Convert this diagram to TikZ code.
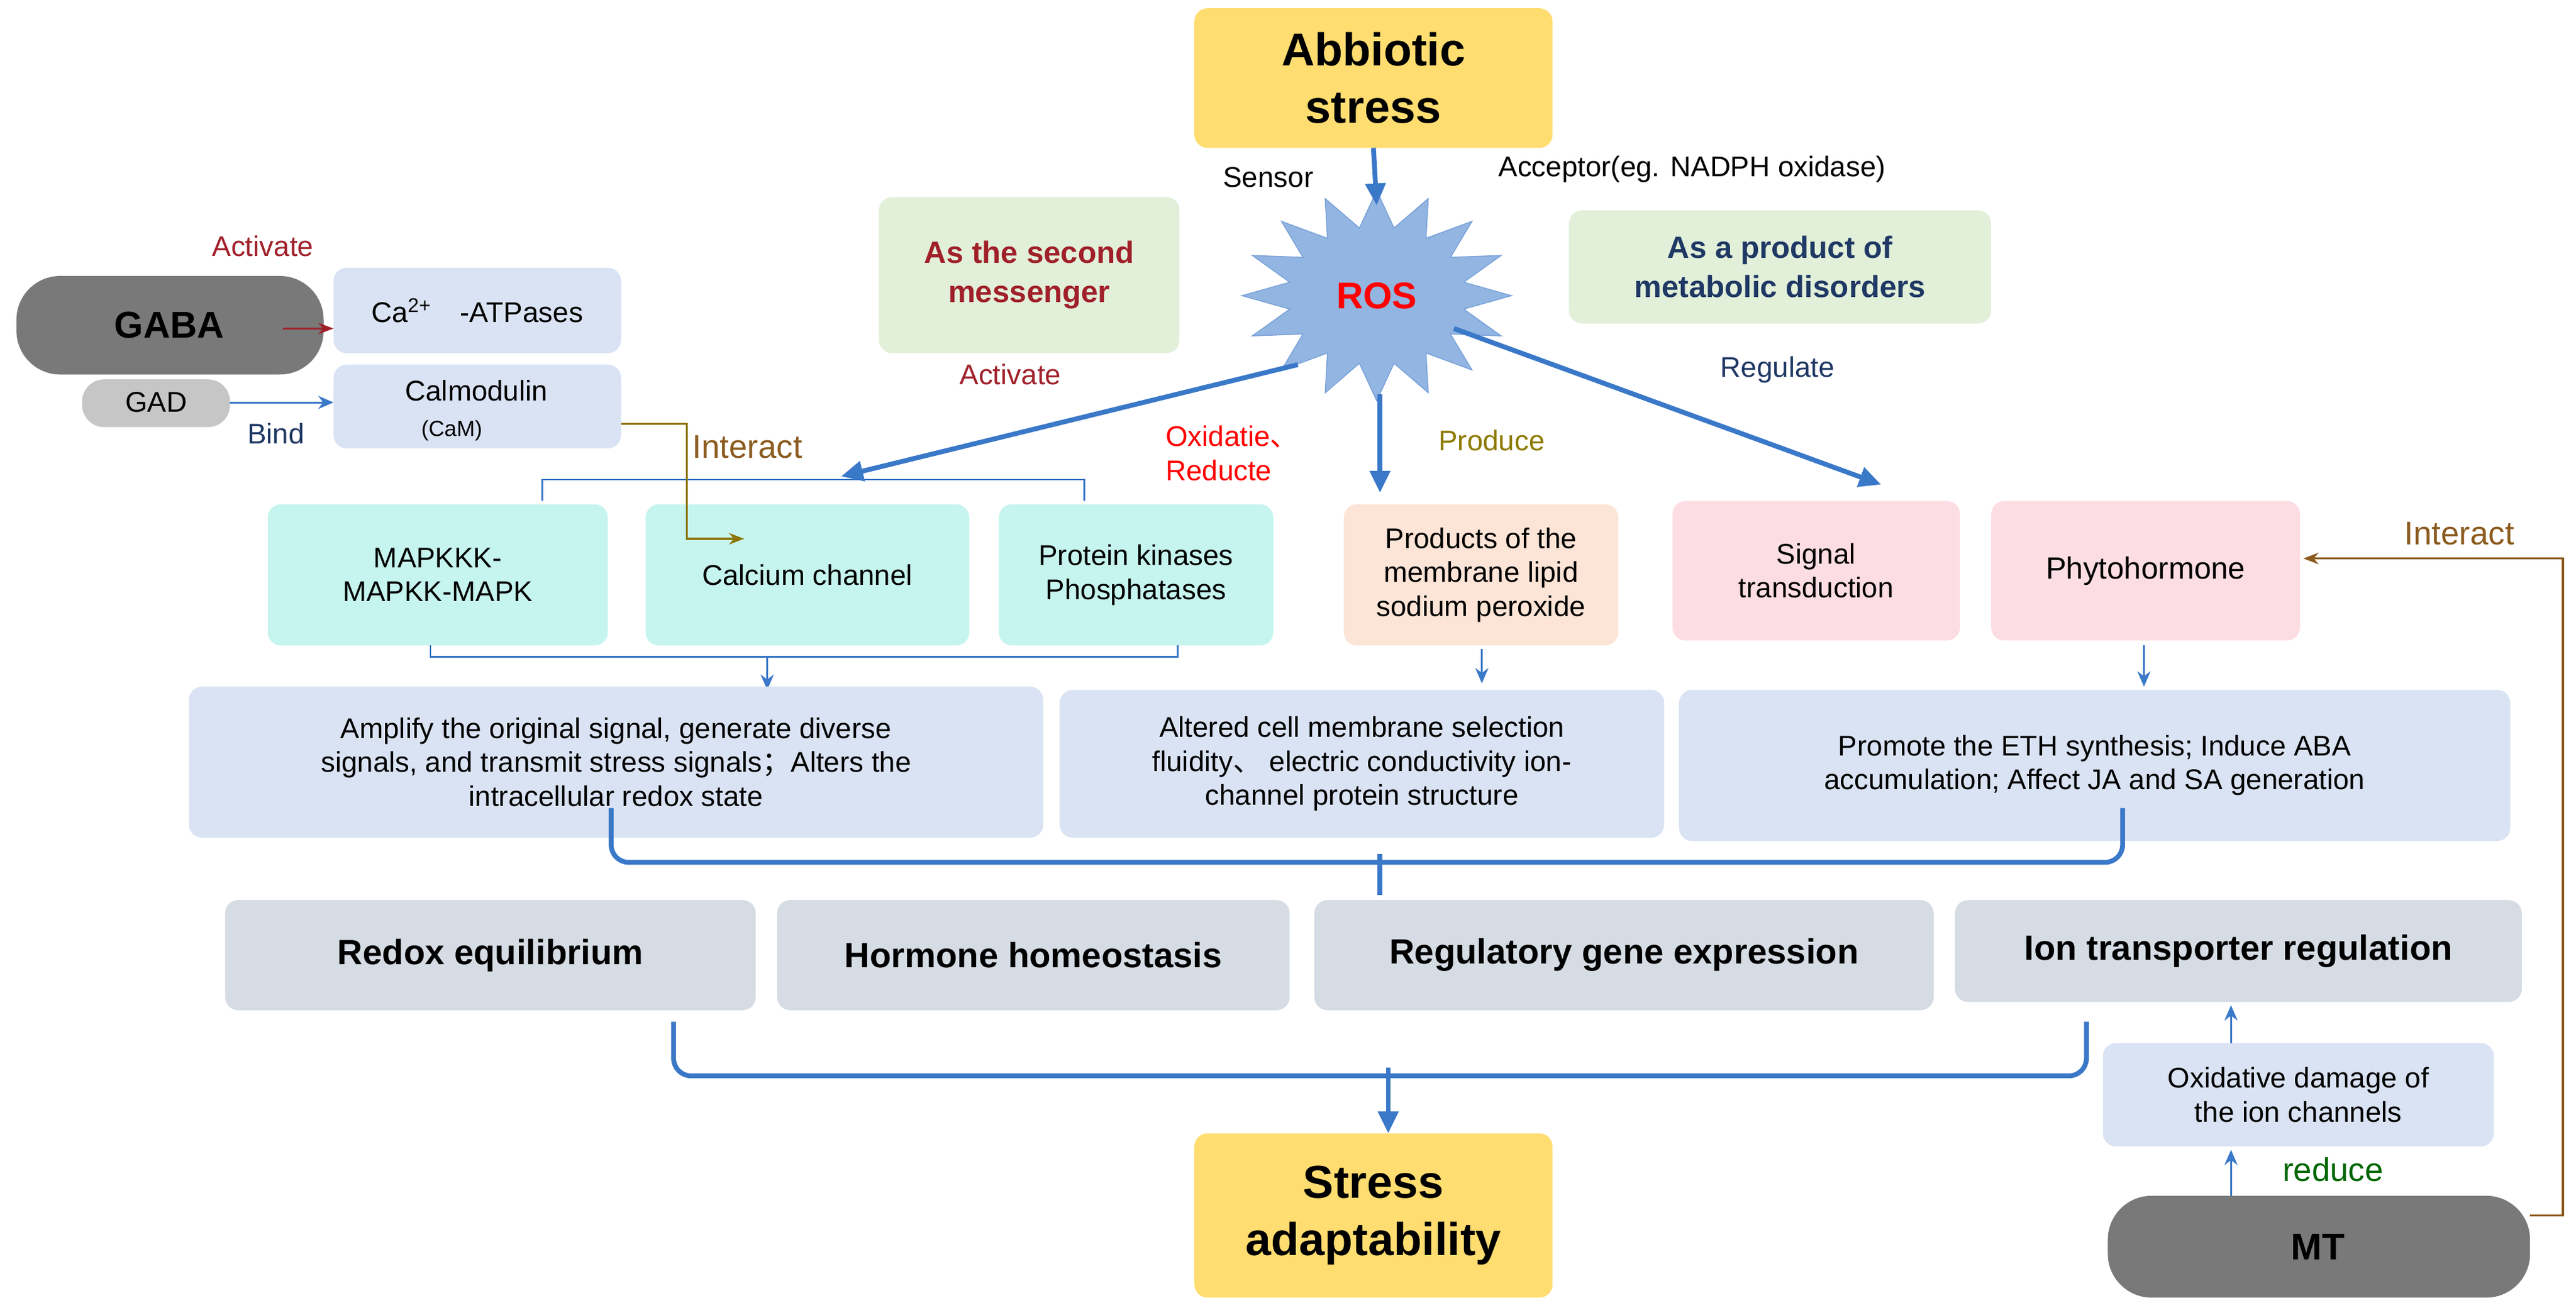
\documentclass[tikz,border=0pt]{standalone}
\usepackage{fontspec}
\setmainfont{Liberation Sans}
\newfontfamily\cjk{Noto Sans CJK SC}
\usetikzlibrary{arrows.meta}
\definecolor{yel}{HTML}{FFDD70}
\definecolor{grn}{HTML}{E2F0D9}
\definecolor{lb}{HTML}{DAE3F3}
\definecolor{cy}{HTML}{C6F4EE}
\definecolor{pch}{HTML}{FCE4D6}
\definecolor{pnk}{HTML}{FDDDE4}
\definecolor{gr}{HTML}{D6DCE4}
\definecolor{dred}{HTML}{A0202A}
\definecolor{dblue}{HTML}{1F3864}
\definecolor{brn}{HTML}{8B5A1E}
\definecolor{olv}{HTML}{8C7A00}
\definecolor{arr}{HTML}{3A78C8}
\newcommand{\bx}[8]{\path[#6] (#2,#3) rectangle (#4,#5); \node[align=center,#7] (#1) at ({(#2+#4)/2},{(#3+#5)/2}) {#8};}
\tikzset{
 every node/.style={font=\fontsize{13}{15.5}\selectfont},
 rb/.style={rounded corners=6pt},
 thick arr/.style={draw=arr,line width=2.2pt,-{Triangle[length=10pt,width=9pt]}},
 thin arr/.style={draw=arr,line width=0.8pt,-{Stealth[length=7pt,width=6pt]}},
 big/.style={font=\fontsize{21}{26}\selectfont\bfseries},
 gb/.style={font=\fontsize{16}{19}\selectfont\bfseries},
 gbox/.style={font=\fontsize{14}{18}\selectfont\bfseries},
}
\begin{document}
\begin{tikzpicture}[x=0.02637cm,y=-0.02637cm]
\useasboundingbox (0,0) rectangle (1568,793);
% top
\bx{abs}{727}{5}{945}{90}{fill=yel,rb}{big}{Abbiotic\\stress}
\node (sensor) at (772,108) {Sensor};
\node (acc) at (1030,103) {Acceptor(eg. NADPH oxidase)};
\bx{sec}{535}{120}{718}{215}{fill=grn,rb}{gbox,text=dred}{As the second\\messenger}
\bx{prod}{955}{128}{1212}{197}{fill=grn,rb}{gbox,text=dblue}{As a product of\\metabolic disorders}
% star
\fill[fill=arr!55,draw=arr!70] plot[samples=33,domain=0:360] ({838+(82-28*mod(round(\x/11.25),2))*cos(\x)},{180+(64-22*mod(round(\x/11.25),2))*sin(\x)}) -- cycle;
\node[text=red,font=\fontsize{17}{20}\selectfont\bfseries] (ros) at (838,180) {ROS};
\draw[thick arr] (abs.south |- 0,90) -- (838,125);
% left cluster
\path[fill=gray!95!black,rounded corners=20pt] (10,168) rectangle (197,228);
\node[font=\fontsize{17}{20}\selectfont\bfseries] (gaba) at (103,198) {GABA};
\node[text=dred] at (160,150) {Activate};
\bx{ca}{203}{163}{378}{215}{fill=lb,rb}{}{Ca\textsuperscript{2+}\quad -ATPases}
\path[fill=gray!45,rounded corners=10pt] (50,231) rectangle (140,260);
\node (gad) at (95,245) {GAD};
\bx{cam}{203}{222}{378}{273}{fill=lb,rb}{}{}
\node at (290,238) {Calmodulin};
\node[font=\fontsize{10}{12}\selectfont] at (275,262) {(CaM)};
\node[text=dblue] at (168,264) {Bind};
\draw[draw=dred,line width=0.8pt,-{Stealth[length=7pt]}] (172,200) -- (203,200);
\draw[thin arr] (140,245) -- (203,245);
\node[text=brn,font=\fontsize{15}{18}\selectfont] at (455,272) {Interact};
% ROS arrows
\draw[thick arr] (790,222) -- (512,290);
\node[text=dred] at (615,228) {Activate};
\node[text=red,align=left] at (750,276) {Oxidatie{\cjk 、}\\Reducte};
\draw[thick arr] (840,240) -- (840,300);
\node[text=olv] at (908,268) {Produce};
\draw[thick arr] (885,200) -- (1145,295);
\node[text=dblue] at (1082,225) {Regulate};
% second row
\draw[draw=arr,line width=0.8pt] (330,305) -- (330,292) -- (660,292) -- (660,305);
\bx{mapk}{163}{307}{370}{393}{fill=cy,rb}{}{MAPKKK-\\MAPKK-MAPK}
\bx{calc}{393}{307}{590}{393}{fill=cy,rb}{}{Calcium channel}
\bx{pk}{608}{307}{775}{393}{fill=cy,rb}{}{Protein kinases\\Phosphatases}
\bx{pmem}{818}{307}{985}{393}{fill=pch,rb}{}{Products of the\\membrane lipid\\sodium peroxide}
\bx{sig}{1018}{305}{1193}{390}{fill=pnk,rb}{}{Signal\\transduction}
\bx{phy}{1212}{305}{1400}{390}{fill=pnk,rb}{font=\fontsize{14}{17}\selectfont}{Phytohormone}
\draw[draw=olv!80!brn,line width=0.9pt,-{Stealth[length=7pt]}] (378,258) -- (418,258) -- (418,328) -- (453,328);
\node[text=brn,font=\fontsize{15}{18}\selectfont] at (1497,325) {Interact};
% to third row
\draw[draw=arr,line width=0.8pt] (262,393) -- (262,400) -- (717,400) -- (717,393);
\draw[thin arr] (467,400) -- (467,420);
\draw[thin arr] (902,395) -- (902,416);
\draw[thin arr] (1305,393) -- (1305,418);
\bx{amp}{115}{418}{635}{510}{fill=lb,rb}{}{Amplify the original signal, generate diverse\\signals, and transmit stress signals{\cjk ；}Alters the\\intracellular redox state}
\bx{alt}{645}{420}{1013}{510}{fill=lb,rb}{}{Altered cell membrane selection\\fluidity{\cjk 、} electric conductivity  ion-\\channel protein structure}
\bx{prom}{1022}{420}{1528}{512}{fill=lb,rb}{}{Promote the ETH synthesis; Induce ABA\\accumulation; Affect JA and SA generation}
\draw[draw=arr,line width=2.2pt,rounded corners=8pt] (372,492) |- (840,525) -| (1292,492);
\draw[draw=arr,line width=2.2pt] (840,520) -- (840,545);
% fourth row
\bx{redox}{137}{548}{460}{615}{fill=gr,rb}{gb}{Redox equilibrium}
\bx{horm}{473}{548}{785}{615}{fill=gr,rb}{gb}{Hormone homeostasis}
\bx{reg}{800}{548}{1177}{615}{fill=gr,rb}{gb}{Regulatory gene expression}
\bx{ion}{1190}{548}{1535}{610}{fill=gr,rb}{gb}{Ion transporter regulation}
\draw[draw=arr,line width=2.2pt,rounded corners=8pt] (410,622) |- (845,655) -| (1270,622);
\draw[thick arr] (845,650) -- (845,690);
\bx{sa}{727}{690}{945}{790}{fill=yel,rb}{big}{Stress\\adaptability}
\bx{oxd}{1280}{635}{1518}{698}{fill=lb,rb}{}{Oxidative damage of\\the ion channels}
\draw[thin arr] (1358,635) -- (1358,612);
\path[fill=gray!95!black,rounded corners=20pt] (1283,728) rectangle (1540,790);
\node[font=\fontsize{17}{20}\selectfont\bfseries] (mt) at (1411,759) {MT};
\draw[thin arr] (1358,728) -- (1358,700);
\node[text=green!40!black,font=\fontsize{15}{18}\selectfont] at (1420,712) {reduce};
\draw[draw=brn,line width=0.9pt,-{Stealth[length=7pt]}] (1540,740) -- (1560,740) -- (1560,340) -- (1402,340);
\end{tikzpicture}
\end{document}
